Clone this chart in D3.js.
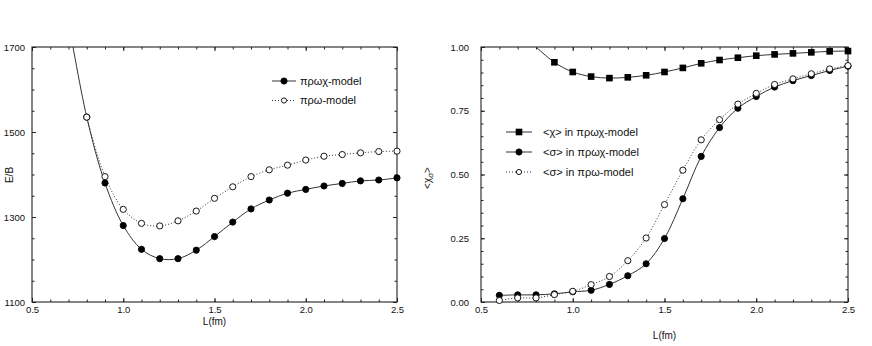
<!DOCTYPE html>
<html>
<head>
<meta charset="utf-8">
<script src="https://cdn.jsdelivr.net/npm/d3@7"></script>
<style>
  body { margin: 0; background: #fff; }
  svg text { font-family: "Liberation Sans", Arial, sans-serif; fill: #111; }
</style>
</head>
<body>
<div class="chart"></div>
<script>
// left panel: E/B vs L
var lenLeftA = [0.7, 0.8, 0.9, 1.0, 1.1, 1.2, 1.3, 1.4, 1.5, 1.6, 1.7, 1.8, 1.9, 2.0, 2.1, 2.2, 2.3, 2.4, 2.5];
var ebPrwx = [1760, 1535, 1380, 1280, 1224, 1202, 1202, 1222, 1254, 1288, 1319, 1340, 1356, 1365, 1373, 1379, 1385, 1387, 1392];
var lenLeftB = [0.8, 0.9, 1.0, 1.1, 1.2, 1.3, 1.4, 1.5, 1.6, 1.7, 1.8, 1.9, 2.0, 2.1, 2.2, 2.3, 2.4, 2.5];
var ebPrw = [1535, 1395, 1318, 1285, 1279, 1291, 1314, 1344, 1371, 1395, 1411, 1422, 1434, 1443, 1447, 1451, 1454, 1455];

// right panel: <chi>, <sigma> vs L
var lenRight = [0.6, 0.7, 0.8, 0.9, 1.0, 1.1, 1.2, 1.3, 1.4, 1.5, 1.6, 1.7, 1.8, 1.9, 2.0, 2.1, 2.2, 2.3, 2.4, 2.5];
var sigmaPrwx = [0.026, 0.028, 0.028, 0.032, 0.040, 0.046, 0.069, 0.103, 0.150, 0.249, 0.405, 0.571, 0.684, 0.760, 0.806, 0.843, 0.868, 0.888, 0.908, 0.925];
var sigmaPrw = [0.006, 0.016, 0.016, 0.029, 0.042, 0.068, 0.100, 0.162, 0.251, 0.382, 0.517, 0.636, 0.715, 0.776, 0.818, 0.853, 0.875, 0.895, 0.914, 0.927];
var lenChi = [0.8, 0.9, 1.0, 1.1, 1.2, 1.3, 1.4, 1.5, 1.6, 1.7, 1.8, 1.9, 2.0, 2.1, 2.2, 2.3, 2.4, 2.5];
var chiPrwx = [1.0, 0.940, 0.902, 0.884, 0.878, 0.881, 0.889, 0.902, 0.918, 0.936, 0.949, 0.958, 0.966, 0.971, 0.975, 0.979, 0.983, 0.984];

var xTicks = [0.5, 1.0, 1.5, 2.0, 2.5];
var yTicksLeft = [1100, 1300, 1500, 1700];
var yTicksRight = [0, 0.25, 0.5, 0.75, 1.0];

function zip(xs, ys) {
    return xs.map(function (d, i) { return { l: d, v: ys[i] }; });
}

var svg = d3.select(".chart").append("svg")
    .attr("width", 872)
    .attr("height", 346);

function panel(opt) {
    var x = d3.scaleLinear().domain([0.5, 2.5]).range([opt.x0, opt.x1]);
    var y = d3.scaleLinear().domain(opt.yDomain).range([302, 47]);
    var g = svg.append("g");

    g.append("clipPath").attr("id", opt.id)
        .append("rect")
        .attr("x", opt.x0).attr("y", 47)
        .attr("width", opt.x1 - opt.x0).attr("height", 255);

    var minorX = d3.range(5, 26).map(function (d) { return d / 10; });

    // inward ticks on all four sides
    g.append("g").attr("transform", "translate(0,302)")
        .call(d3.axisBottom(x).tickValues(minorX).tickSize(-2.5).tickFormat(""));
    g.append("g").attr("transform", "translate(0,302)")
        .call(d3.axisBottom(x).tickValues(xTicks).tickSize(-4).tickPadding(4).tickFormat(d3.format(".1f")));
    g.append("g").attr("transform", "translate(0,47)")
        .call(d3.axisTop(x).tickValues(minorX).tickSize(-2.5).tickFormat(""));
    g.append("g").attr("transform", "translate(0,47)")
        .call(d3.axisTop(x).tickValues(xTicks).tickSize(-4).tickFormat(""));
    g.append("g").attr("transform", "translate(" + opt.x0 + ",0)")
        .call(d3.axisLeft(y).tickValues(opt.yMinor).tickSize(-2.5).tickFormat(""));
    g.append("g").attr("transform", "translate(" + opt.x0 + ",0)")
        .call(d3.axisLeft(y).tickValues(opt.yTicks).tickSize(-4).tickPadding(opt.yPad).tickFormat(opt.yFormat));
    g.append("g").attr("transform", "translate(" + opt.x1 + ",0)")
        .call(d3.axisRight(y).tickValues(opt.yMinor).tickSize(-2.5).tickFormat(""));
    g.append("g").attr("transform", "translate(" + opt.x1 + ",0)")
        .call(d3.axisRight(y).tickValues(opt.yTicks).tickSize(-4).tickFormat(""));

    g.selectAll(".domain").remove();
    g.selectAll(".tick line").attr("stroke", "#222");
    g.selectAll(".tick text").attr("font-size", 9.5).attr("fill", "#222")
        .attr("font-family", "Liberation Sans, Arial, sans-serif");

    g.append("rect")
        .attr("x", opt.x0).attr("y", 47)
        .attr("width", opt.x1 - opt.x0).attr("height", 255)
        .attr("fill", "none").attr("stroke", "#222").attr("stroke-width", 1.1);

    // x label
    g.append("text")
        .attr("x", (opt.x0 + opt.x1) / 2).attr("y", opt.xLabelY)
        .attr("text-anchor", "middle").attr("font-size", 10)
        .text("L(fm)");

    var line = d3.line()
        .x(function (d) { return x(d.l); })
        .y(function (d) { return y(d.v); })
        .curve(d3.curveCatmullRom);

    var plot = g.append("g").attr("clip-path", "url(#" + opt.id + ")");
    var marks = g.append("g");

    opt.series.forEach(function (s) {
        plot.append("path")
            .datum(s.data)
            .attr("fill", "none")
            .attr("stroke", "#333")
            .attr("stroke-width", 1)
            .attr("stroke-dasharray", s.dash ? "1,2" : null)
            .attr("d", line);

        var pts = marks.selectAll(null)
            .data(s.data.filter(function (d) { return d.v < opt.yDomain[1]; }))
            .enter();
        if (s.marker === "square") {
            pts.append("rect")
                .attr("x", function (d) { return x(d.l) - 3.3; })
                .attr("y", function (d) { return y(d.v) - 3.3; })
                .attr("width", 6.6).attr("height", 6.6)
                .attr("fill", "#000");
        } else {
            pts.append("circle")
                .attr("cx", function (d) { return x(d.l); })
                .attr("cy", function (d) { return y(d.v); })
                .attr("r", 3.1)
                .attr("fill", s.marker === "open" ? "#fff" : "#000")
                .attr("stroke", "#000")
                .attr("stroke-width", 0.9);
        }
    });

    // legend
    var lg = g.append("g");
    opt.series.forEach(function (s, i) {
        var ly = opt.legend.y + i * opt.legend.dy;
        var lx = opt.legend.x;
        lg.append("line")
            .attr("x1", lx).attr("x2", lx + opt.legend.w)
            .attr("y1", ly).attr("y2", ly)
            .attr("stroke", "#333")
            .attr("stroke-dasharray", s.dash ? "1,2" : null);
        var mx = lx + opt.legend.w / 2;
        if (s.marker === "square") {
            lg.append("rect").attr("x", mx - 3.3).attr("y", ly - 3.3)
                .attr("width", 6.6).attr("height", 6.6).attr("fill", "#000");
        } else {
            lg.append("circle").attr("cx", mx).attr("cy", ly)
                .attr("r", s.marker === "open" ? 2.6 : 3.1)
                .attr("fill", s.marker === "open" ? "#fff" : "#000")
                .attr("stroke", "#000").attr("stroke-width", 0.9);
        }
        lg.append("text")
            .attr("x", lx + opt.legend.w + opt.legend.gap).attr("y", ly)
            .attr("dy", "0.35em").attr("font-size", 11)
            .text(s.label);
    });

    return g;
}

var left = panel({
    id: "clipL", x0: 32, x1: 397,
    yDomain: [1100, 1700], yTicks: yTicksLeft,
    yMinor: d3.range(1100, 1701, 50),
    yPad: 7, yFormat: d3.format("d"), xLabelY: 325,
    legend: { x: 272, y: 81, dy: 19.5, w: 24, gap: 4 },
    series: [
        { data: zip(lenLeftA, ebPrwx), marker: "filled", dash: false, label: "πρωχ-model" },
        { data: zip(lenLeftB, ebPrw), marker: "open", dash: true, label: "πρω-model" }
    ]
});

left.append("text")
    .attr("transform", "translate(13,175) rotate(-90)")
    .attr("text-anchor", "middle").attr("font-size", 10)
    .text("E/B");

var right = panel({
    id: "clipR", x0: 481, x1: 848,
    yDomain: [0, 1], yTicks: yTicksRight,
    yMinor: d3.range(0, 21).map(function (d) { return d / 20; }),
    yPad: 12, yFormat: d3.format(".2f"), xLabelY: 339,
    legend: { x: 506, y: 132, dy: 20, w: 26, gap: 11 },
    series: [
        { data: zip(lenChi, chiPrwx), marker: "square", dash: false, label: "<χ> in πρωχ-model" },
        { data: zip(lenRight, sigmaPrwx), marker: "filled", dash: false, label: "<σ> in πρωχ-model" },
        { data: zip(lenRight, sigmaPrw), marker: "open", dash: true, label: "<σ> in πρω-model" }
    ]
});

var yl = right.append("text")
    .attr("transform", "translate(431,178) rotate(-90)")
    .attr("text-anchor", "middle").attr("font-size", 10);
yl.append("tspan").text("<χ");
yl.append("tspan").attr("font-size", 8).attr("dy", 2).text("σ");
yl.append("tspan").attr("dy", -2).text(">");
</script>
</body>
</html>
